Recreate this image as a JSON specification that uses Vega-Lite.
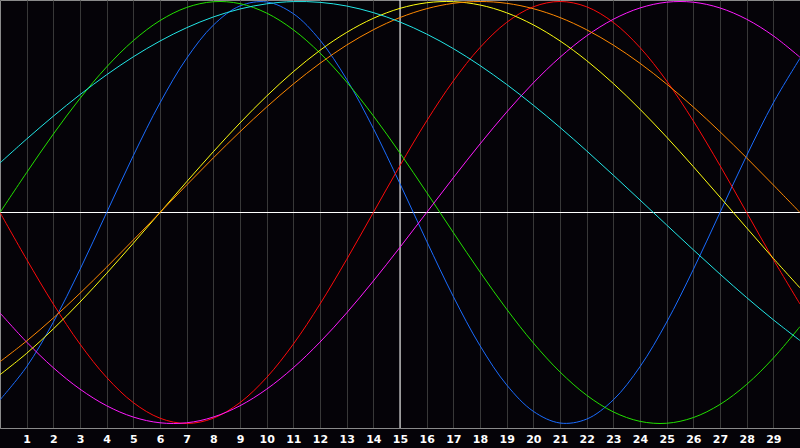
{
  "$schema": "https://vega.github.io/schema/vega-lite/v6.json",
  "width": 800,
  "height": 428,
  "autosize": {"type": "none"},
  "padding": {"left": 0, "top": 0, "right": 0, "bottom": 20},
  "background": "#050308",
  "config": {"view": {"stroke": "#8a8a8a", "strokeWidth": 1, "fill": "#050308"}},
  "datasets": {
    "curves": [
      {"s":"Physical","d":0,"v":-0.8879},{"s":"Physical","d":1,"v":-0.7308},{"s":"Physical","d":2,"v":-0.5196},{"s":"Physical","d":3,"v":-0.2698},{"s":"Physical","d":4,"v":0},{"s":"Physical","d":5,"v":0.2698},{"s":"Physical","d":6,"v":0.5196},{"s":"Physical","d":7,"v":0.7308},{"s":"Physical","d":8,"v":0.8879},{"s":"Physical","d":9,"v":0.9791},{"s":"Physical","d":10,"v":0.9977},{"s":"Physical","d":11,"v":0.9423},{"s":"Physical","d":12,"v":0.817},{"s":"Physical","d":13,"v":0.6311},{"s":"Physical","d":14,"v":0.3984},{"s":"Physical","d":15,"v":0.1362},{"s":"Physical","d":16,"v":-0.1362},{"s":"Physical","d":17,"v":-0.3984},{"s":"Physical","d":18,"v":-0.6311},{"s":"Physical","d":19,"v":-0.817},{"s":"Physical","d":20,"v":-0.9423},{"s":"Physical","d":21,"v":-0.9977},{"s":"Physical","d":22,"v":-0.9791},{"s":"Physical","d":23,"v":-0.8879},{"s":"Physical","d":24,"v":-0.7308},{"s":"Physical","d":25,"v":-0.5196},{"s":"Physical","d":26,"v":-0.2698},{"s":"Physical","d":27,"v":0},{"s":"Physical","d":28,"v":0.2698},{"s":"Physical","d":29,"v":0.5196},{"s":"Physical","d":30,"v":0.7308},
      {"s":"Emotional","d":0,"v":0},{"s":"Emotional","d":1,"v":-0.2225},{"s":"Emotional","d":2,"v":-0.4339},{"s":"Emotional","d":3,"v":-0.6235},{"s":"Emotional","d":4,"v":-0.7818},{"s":"Emotional","d":5,"v":-0.901},{"s":"Emotional","d":6,"v":-0.9749},{"s":"Emotional","d":7,"v":-1},{"s":"Emotional","d":8,"v":-0.9749},{"s":"Emotional","d":9,"v":-0.901},{"s":"Emotional","d":10,"v":-0.7818},{"s":"Emotional","d":11,"v":-0.6235},{"s":"Emotional","d":12,"v":-0.4339},{"s":"Emotional","d":13,"v":-0.2225},{"s":"Emotional","d":14,"v":0},{"s":"Emotional","d":15,"v":0.2225},{"s":"Emotional","d":16,"v":0.4339},{"s":"Emotional","d":17,"v":0.6235},{"s":"Emotional","d":18,"v":0.7818},{"s":"Emotional","d":19,"v":0.901},{"s":"Emotional","d":20,"v":0.9749},{"s":"Emotional","d":21,"v":1},{"s":"Emotional","d":22,"v":0.9749},{"s":"Emotional","d":23,"v":0.901},{"s":"Emotional","d":24,"v":0.7818},{"s":"Emotional","d":25,"v":0.6235},{"s":"Emotional","d":26,"v":0.4339},{"s":"Emotional","d":27,"v":0.2225},{"s":"Emotional","d":28,"v":0},{"s":"Emotional","d":29,"v":-0.2225},{"s":"Emotional","d":30,"v":-0.4339},
      {"s":"Intellectual","d":0,"v":0},{"s":"Intellectual","d":1,"v":0.1893},{"s":"Intellectual","d":2,"v":0.3717},{"s":"Intellectual","d":3,"v":0.5406},{"s":"Intellectual","d":4,"v":0.6901},{"s":"Intellectual","d":5,"v":0.8146},{"s":"Intellectual","d":6,"v":0.9096},{"s":"Intellectual","d":7,"v":0.9718},{"s":"Intellectual","d":8,"v":0.9989},{"s":"Intellectual","d":9,"v":0.9898},{"s":"Intellectual","d":10,"v":0.945},{"s":"Intellectual","d":11,"v":0.866},{"s":"Intellectual","d":12,"v":0.7557},{"s":"Intellectual","d":13,"v":0.6182},{"s":"Intellectual","d":14,"v":0.4582},{"s":"Intellectual","d":15,"v":0.2817},{"s":"Intellectual","d":16,"v":0.0951},{"s":"Intellectual","d":17,"v":-0.0951},{"s":"Intellectual","d":18,"v":-0.2817},{"s":"Intellectual","d":19,"v":-0.4582},{"s":"Intellectual","d":20,"v":-0.6182},{"s":"Intellectual","d":21,"v":-0.7557},{"s":"Intellectual","d":22,"v":-0.866},{"s":"Intellectual","d":23,"v":-0.945},{"s":"Intellectual","d":24,"v":-0.9898},{"s":"Intellectual","d":25,"v":-0.9989},{"s":"Intellectual","d":26,"v":-0.9718},{"s":"Intellectual","d":27,"v":-0.9096},{"s":"Intellectual","d":28,"v":-0.8146},{"s":"Intellectual","d":29,"v":-0.6901},{"s":"Intellectual","d":30,"v":-0.5406},
      {"s":"Intuitive","d":0,"v":-0.4759},{"s":"Intuitive","d":1,"v":-0.6142},{"s":"Intuitive","d":2,"v":-0.7357},{"s":"Intuitive","d":3,"v":-0.8372},{"s":"Intuitive","d":4,"v":-0.9158},{"s":"Intuitive","d":5,"v":-0.9694},{"s":"Intuitive","d":6,"v":-0.9966},{"s":"Intuitive","d":7,"v":-0.9966},{"s":"Intuitive","d":8,"v":-0.9694},{"s":"Intuitive","d":9,"v":-0.9158},{"s":"Intuitive","d":10,"v":-0.8372},{"s":"Intuitive","d":11,"v":-0.7357},{"s":"Intuitive","d":12,"v":-0.6142},{"s":"Intuitive","d":13,"v":-0.4759},{"s":"Intuitive","d":14,"v":-0.3247},{"s":"Intuitive","d":15,"v":-0.1646},{"s":"Intuitive","d":16,"v":0},{"s":"Intuitive","d":17,"v":0.1646},{"s":"Intuitive","d":18,"v":0.3247},{"s":"Intuitive","d":19,"v":0.4759},{"s":"Intuitive","d":20,"v":0.6142},{"s":"Intuitive","d":21,"v":0.7357},{"s":"Intuitive","d":22,"v":0.8372},{"s":"Intuitive","d":23,"v":0.9158},{"s":"Intuitive","d":24,"v":0.9694},{"s":"Intuitive","d":25,"v":0.9966},{"s":"Intuitive","d":26,"v":0.9966},{"s":"Intuitive","d":27,"v":0.9694},{"s":"Intuitive","d":28,"v":0.9158},{"s":"Intuitive","d":29,"v":0.8372},{"s":"Intuitive","d":30,"v":0.7357},
      {"s":"Aesthetic","d":0,"v":-0.7687},{"s":"Aesthetic","d":1,"v":-0.6673},{"s":"Aesthetic","d":2,"v":-0.5518},{"s":"Aesthetic","d":3,"v":-0.4245},{"s":"Aesthetic","d":4,"v":-0.2881},{"s":"Aesthetic","d":5,"v":-0.1456},{"s":"Aesthetic","d":6,"v":0},{"s":"Aesthetic","d":7,"v":0.1456},{"s":"Aesthetic","d":8,"v":0.2881},{"s":"Aesthetic","d":9,"v":0.4245},{"s":"Aesthetic","d":10,"v":0.5518},{"s":"Aesthetic","d":11,"v":0.6673},{"s":"Aesthetic","d":12,"v":0.7687},{"s":"Aesthetic","d":13,"v":0.8535},{"s":"Aesthetic","d":14,"v":0.9203},{"s":"Aesthetic","d":15,"v":0.9675},{"s":"Aesthetic","d":16,"v":0.994},{"s":"Aesthetic","d":17,"v":0.9993},{"s":"Aesthetic","d":18,"v":0.9834},{"s":"Aesthetic","d":19,"v":0.9465},{"s":"Aesthetic","d":20,"v":0.8893},{"s":"Aesthetic","d":21,"v":0.8133},{"s":"Aesthetic","d":22,"v":0.7199},{"s":"Aesthetic","d":23,"v":0.6112},{"s":"Aesthetic","d":24,"v":0.4894},{"s":"Aesthetic","d":25,"v":0.3572},{"s":"Aesthetic","d":26,"v":0.2174},{"s":"Aesthetic","d":27,"v":0.073},{"s":"Aesthetic","d":28,"v":-0.073},{"s":"Aesthetic","d":29,"v":-0.2174},{"s":"Aesthetic","d":30,"v":-0.3572},
      {"s":"Awareness","d":0,"v":-0.7071},{"s":"Awareness","d":1,"v":-0.6088},{"s":"Awareness","d":2,"v":-0.5},{"s":"Awareness","d":3,"v":-0.3827},{"s":"Awareness","d":4,"v":-0.2588},{"s":"Awareness","d":5,"v":-0.1305},{"s":"Awareness","d":6,"v":0},{"s":"Awareness","d":7,"v":0.1305},{"s":"Awareness","d":8,"v":0.2588},{"s":"Awareness","d":9,"v":0.3827},{"s":"Awareness","d":10,"v":0.5},{"s":"Awareness","d":11,"v":0.6088},{"s":"Awareness","d":12,"v":0.7071},{"s":"Awareness","d":13,"v":0.7934},{"s":"Awareness","d":14,"v":0.866},{"s":"Awareness","d":15,"v":0.9239},{"s":"Awareness","d":16,"v":0.9659},{"s":"Awareness","d":17,"v":0.9914},{"s":"Awareness","d":18,"v":1},{"s":"Awareness","d":19,"v":0.9914},{"s":"Awareness","d":20,"v":0.9659},{"s":"Awareness","d":21,"v":0.9239},{"s":"Awareness","d":22,"v":0.866},{"s":"Awareness","d":23,"v":0.7934},{"s":"Awareness","d":24,"v":0.7071},{"s":"Awareness","d":25,"v":0.6088},{"s":"Awareness","d":26,"v":0.5},{"s":"Awareness","d":27,"v":0.3827},{"s":"Awareness","d":28,"v":0.2588},{"s":"Awareness","d":29,"v":0.1305},{"s":"Awareness","d":30,"v":0},
      {"s":"Spiritual","d":0,"v":0.2349},{"s":"Spiritual","d":1,"v":0.3482},{"s":"Spiritual","d":2,"v":0.4566},{"s":"Spiritual","d":3,"v":0.5586},{"s":"Spiritual","d":4,"v":0.6529},{"s":"Spiritual","d":5,"v":0.738},{"s":"Spiritual","d":6,"v":0.8126},{"s":"Spiritual","d":7,"v":0.8758},{"s":"Spiritual","d":8,"v":0.9267},{"s":"Spiritual","d":9,"v":0.9646},{"s":"Spiritual","d":10,"v":0.989},{"s":"Spiritual","d":11,"v":0.9996},{"s":"Spiritual","d":12,"v":0.996},{"s":"Spiritual","d":13,"v":0.9786},{"s":"Spiritual","d":14,"v":0.9473},{"s":"Spiritual","d":15,"v":0.9028},{"s":"Spiritual","d":16,"v":0.8456},{"s":"Spiritual","d":17,"v":0.7767},{"s":"Spiritual","d":18,"v":0.6965},{"s":"Spiritual","d":19,"v":0.6068},{"s":"Spiritual","d":20,"v":0.5085},{"s":"Spiritual","d":21,"v":0.4032},{"s":"Spiritual","d":22,"v":0.292},{"s":"Spiritual","d":23,"v":0.1769},{"s":"Spiritual","d":24,"v":0.0592},{"s":"Spiritual","d":25,"v":-0.0592},{"s":"Spiritual","d":26,"v":-0.1769},{"s":"Spiritual","d":27,"v":-0.292},{"s":"Spiritual","d":28,"v":-0.4032},{"s":"Spiritual","d":29,"v":-0.5085},{"s":"Spiritual","d":30,"v":-0.6068}
    ]
  },
  "layer": [
    {
      "data": {"values": [{"y": 0}]},
      "mark": {"type": "rule", "color": "#ffffff", "strokeWidth": 1},
      "encoding": {
        "y": {"field": "y", "type": "quantitative", "scale": {"domain": [-1.0213, 1.0071], "nice": false, "zero": false}, "axis": null}
      }
    },
    {
      "data": {"values": [{"x": 15}]},
      "mark": {"type": "rule", "color": "#ffffff", "strokeWidth": 1},
      "encoding": {
        "x": {"field": "x", "type": "quantitative"}
      }
    },
    {
      "data": {"name": "curves"},
      "mark": {"type": "line", "strokeWidth": 1, "interpolate": "catmull-rom"},
      "encoding": {
        "x": {
          "field": "d", "type": "quantitative",
          "scale": {"domain": [0, 30], "nice": false, "zero": false},
          "axis": {
            "values": [1,2,3,4,5,6,7,8,9,10,11,12,13,14,15,16,17,18,19,20,21,22,23,24,25,26,27,28,29],
            "tickCount": 40,
            "format": "d",
            "title": null,
            "grid": true,
            "gridColor": "#383838",
            "gridWidth": 1,
            "ticks": false,
            "domain": true,
            "domainColor": "#8a8a8a",
            "labelColor": "#ffffff",
            "labelFont": "DejaVu Sans",
            "labelFontWeight": "bold",
            "labelFontSize": 11,
            "labelPadding": 5,
            "labelFlush": false,
            "labelOverlap": false
          }
        },
        "y": {"field": "v", "type": "quantitative"},
        "color": {
          "field": "s", "type": "nominal",
          "scale": {
            "domain": ["Physical","Emotional","Intellectual","Intuitive","Aesthetic","Awareness","Spiritual"],
            "range": ["#1a6cff","#ff0a0a","#22e000","#ff1aff","#ffff10","#ff8800","#22e6e6"]
          },
          "legend": null
        }
      }
    }
  ]
}
